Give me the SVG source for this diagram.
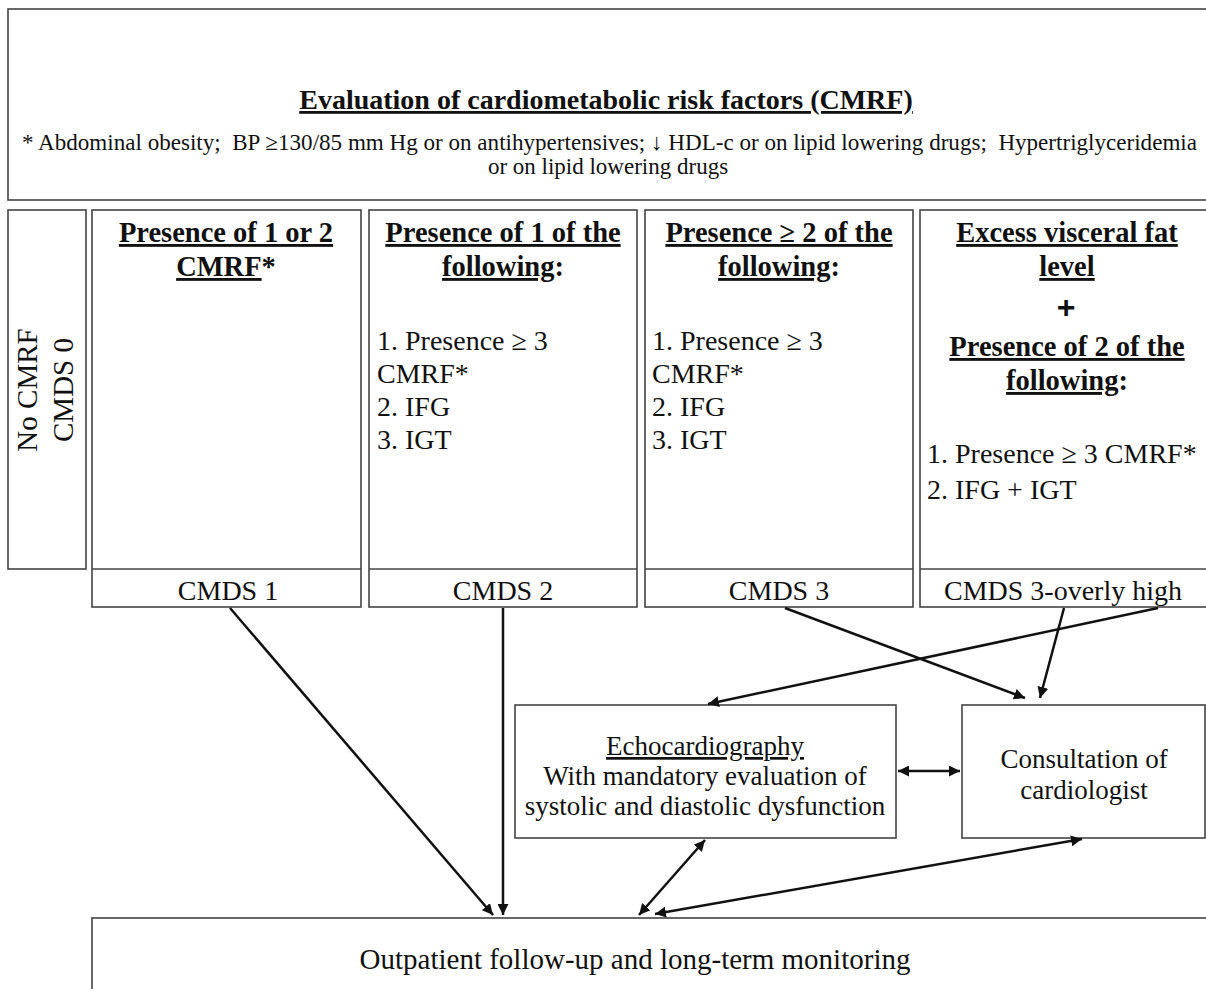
<svg xmlns="http://www.w3.org/2000/svg" width="1206" height="989" viewBox="0 0 1206 989">
<defs>
<style>
.box{fill:#fff;stroke:#444;stroke-width:1.6}
.t{font-family:"Liberation Serif","Times New Roman",serif;fill:#111}
.h{font-size:28.5px;font-weight:bold;text-anchor:middle}
.u{text-decoration:underline}
.l{font-size:28px}
.c{font-size:28px;text-anchor:middle}
.e{font-size:27px;text-anchor:middle}
.ln{stroke:#111;stroke-width:2.5;fill:none}
</style>
<marker id="ah" viewBox="0 0 10 10" refX="10" refY="5" markerWidth="11" markerHeight="11" markerUnits="userSpaceOnUse" orient="auto-start-reverse">
<path d="M0,0 L10,5 L0,10 z" fill="#111"/>
</marker>
</defs>
<rect width="1206" height="989" fill="#fff"/>

<g id="header">
<rect class="box" x="8" y="9" width="1210" height="191"/>
<text class="t u" x="606" y="109" text-anchor="middle" style="font-size:28px;font-weight:bold">Evaluation of cardiometabolic risk factors (CMRF)</text>
<text class="t" x="22" y="150" textLength="1175" lengthAdjust="spacingAndGlyphs" style="font-size:23px;white-space:pre">* Abdominal obesity;  BP ≥130/85 mm Hg or on antihypertensives; ↓ HDL-c or on lipid lowering drugs;  Hypertriglyceridemia</text>
<text class="t" x="608" y="174" text-anchor="middle" style="font-size:23px">or on lipid lowering drugs</text>
</g>

<g id="cmds0">
<rect class="box" x="8" y="210" width="78" height="359"/>
<text class="t" transform="translate(37,390) rotate(-90)" text-anchor="middle" style="font-size:29px">No CMRF</text>
<text class="t" transform="translate(73,390) rotate(-90)" text-anchor="middle" style="font-size:29px">CMDS 0</text>
</g>

<g id="cmds1">
<rect class="box" x="92" y="210" width="269" height="397"/>
<line class="box" x1="92" y1="569" x2="361" y2="569"/>
<text class="t h" x="226" y="242"><tspan class="u">Presence of 1 or 2</tspan></text>
<text class="t h" x="226" y="276"><tspan class="u">CMRF</tspan>*</text>
<text class="t c" x="228" y="600">CMDS 1</text>
</g>

<g id="cmds2">
<rect class="box" x="369" y="210" width="268" height="397"/>
<line class="box" x1="369" y1="569" x2="637" y2="569"/>
<text class="t h" x="503" y="242"><tspan class="u">Presence of 1 of the</tspan></text>
<text class="t h" x="503" y="276"><tspan class="u">following</tspan>:</text>
<text class="t l" x="377" y="350">1. Presence ≥ 3</text>
<text class="t l" x="377" y="383">CMRF*</text>
<text class="t l" x="377" y="416">2. IFG</text>
<text class="t l" x="377" y="449">3. IGT</text>
<text class="t c" x="503" y="600">CMDS 2</text>
</g>

<g id="cmds3">
<rect class="box" x="645" y="210" width="268" height="397"/>
<line class="box" x1="645" y1="569" x2="913" y2="569"/>
<text class="t h" x="779" y="242"><tspan class="u">Presence ≥ 2 of the</tspan></text>
<text class="t h" x="779" y="276"><tspan class="u">following</tspan>:</text>
<text class="t l" x="652" y="350">1. Presence ≥ 3</text>
<text class="t l" x="652" y="383">CMRF*</text>
<text class="t l" x="652" y="416">2. IFG</text>
<text class="t l" x="652" y="449">3. IGT</text>
<text class="t c" x="779" y="600">CMDS 3</text>
</g>

<g id="cmds3high">
<rect class="box" x="920" y="210" width="300" height="397"/>
<line class="box" x1="920" y1="569" x2="1220" y2="569"/>
<text class="t h" x="1067" y="242"><tspan class="u">Excess visceral fat</tspan></text>
<text class="t h" x="1067" y="276"><tspan class="u">level</tspan></text>
<text x="1066" y="318" text-anchor="middle" style="font-family:'Liberation Sans',Arial,sans-serif;font-weight:900;font-size:32px;fill:#111">+</text>
<text class="t h" x="1067" y="356"><tspan class="u">Presence of 2 of the</tspan></text>
<text class="t h" x="1067" y="390"><tspan class="u">following</tspan>:</text>
<text class="t l" x="927" y="463">1. Presence ≥ 3 CMRF*</text>
<text class="t l" x="927" y="499">2. IFG + IGT</text>
<text class="t c" x="1063" y="600">CMDS 3-overly high</text>
</g>

<g id="echo">
<rect class="box" x="515" y="705" width="381" height="133"/>
<text class="t e u" x="705" y="755">Echocardiography</text>
<text class="t e" x="705" y="785">With mandatory evaluation of</text>
<text class="t e" x="705" y="815">systolic and diastolic dysfunction</text>
</g>

<g id="cardiologist">
<rect class="box" x="962" y="705" width="243" height="133"/>
<text class="t e" x="1084" y="768">Consultation of</text>
<text class="t e" x="1084" y="799">cardiologist</text>
</g>

<g id="outpatient">
<rect class="box" x="92" y="918" width="1120" height="80"/>
<text class="t" x="635" y="969" text-anchor="middle" style="font-size:29px">Outpatient follow-up and long-term monitoring</text>
</g>

<g id="connectors">
<line class="ln" x1="230" y1="608" x2="493" y2="915" marker-end="url(#ah)"/>
<line class="ln" x1="503" y1="608" x2="503" y2="915" marker-end="url(#ah)"/>
<line class="ln" x1="785" y1="608" x2="1025" y2="698" marker-end="url(#ah)"/>
<line class="ln" x1="1158" y1="608" x2="708" y2="704" marker-end="url(#ah)"/>
<line class="ln" x1="1064" y1="608" x2="1040" y2="698" marker-end="url(#ah)"/>
<line class="ln" x1="898" y1="771" x2="960" y2="771" marker-start="url(#ah)" marker-end="url(#ah)"/>
<line class="ln" x1="639" y1="915" x2="705" y2="840" marker-start="url(#ah)" marker-end="url(#ah)"/>
<line class="ln" x1="655" y1="914" x2="1082" y2="839" marker-start="url(#ah)" marker-end="url(#ah)"/>
</g>
</svg>
